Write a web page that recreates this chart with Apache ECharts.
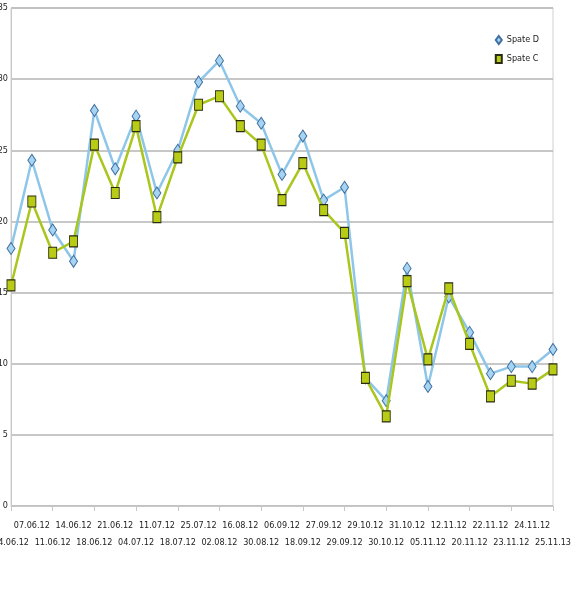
<!DOCTYPE html>
<html>
<head>
<meta charset="utf-8">
<script src="https://cdn.jsdelivr.net/npm/echarts@6/dist/echarts.min.js"></script>
<style>
  html, body { margin: 0; padding: 0; background: #fff; }
  #chart { width: 586px; height: 599px; }
</style>
</head>
<body>
<div id="chart"></div>
<script>
const dates = [
  '04.06.12', '07.06.12', '11.06.12', '14.06.12', '18.06.12', '21.06.12', '04.07.12',
  '11.07.12', '18.07.12', '25.07.12', '02.08.12', '16.08.12', '30.08.12', '06.09.12',
  '18.09.12', '27.09.12', '29.09.12', '29.10.12', '30.10.12', '31.10.12', '05.11.12',
  '12.11.12', '20.11.12', '22.11.12', '23.11.12', '24.11.12', '25.11.13'
]
const spateD = [
  18.1, 24.3, 19.4, 17.2, 27.8, 23.7, 27.4, 22.0, 25.0, 29.8, 31.3, 28.1, 26.9, 23.3,
  26.0, 21.5, 22.4, 9.0, 7.4, 16.7, 8.4, 14.7, 12.2, 9.3, 9.8, 9.8, 11.0
]
const spateC = [
  15.5, 21.4, 17.8, 18.6, 25.4, 22.0, 26.7, 20.3, 24.5, 28.2, 28.8, 26.7, 25.4, 21.5,
  24.1, 20.8, 19.2, 9.0, 6.3, 15.8, 10.3, 15.3, 11.4, 7.7, 8.8, 8.6, 9.6
]
const yTicks = [0, 5, 10, 15, 20, 25, 30, 35]

const font = '"DejaVu Sans Condensed", "Liberation Sans Narrow", sans-serif'
const chart = echarts.init(document.getElementById('chart'))

chart.setOption({
  animation: false,
  textStyle: { fontFamily: font },
  legend: {
    orient: 'vertical',
    right: 42,
    top: 30,
    itemGap: 9,
    itemWidth: 6,
    itemHeight: 8,
    textStyle: { fontSize: 9, color: '#222', fontFamily: font },
    data: [
      { name: 'Spate D', icon: 'diamond' },
      { name: 'Spate C', icon: 'rect' }
    ]
  },
  grid: {
    left: 11,
    right: 33,
    top: 8,
    bottom: 93,
    outerBoundsMode: 'none',
    containLabel: false,
    show: true,
    borderColor: '#d0d0d0',
    borderWidth: 1
  },
  xAxis: {
    type: 'category',
    data: dates,
    boundaryGap: false,
    axisLine: { lineStyle: { color: '#c8c8c8' } },
    axisTick: {
      show: true,
      length: 5,
      interval: (i) => i % 2 === 0,
      lineStyle: { color: '#c8c8c8' }
    },
    axisLabel: {
      interval: 0,
      fontSize: 9,
      color: '#222',
      margin: 11,
      lineHeight: 17,
      formatter: (v, i) => (i % 2 === 1 ? v : '\n' + v)
    }
  },
  yAxis: {
    type: 'value',
    min: yTicks[0],
    max: yTicks[yTicks.length - 1],
    interval: 5,
    axisLine: { show: true, lineStyle: { color: '#c8c8c8' } },
    axisTick: { show: false },
    axisLabel: { fontSize: 9, color: '#222', margin: 3 },
    splitLine: { lineStyle: { color: '#b4b4b4', width: 1.5 } }
  },
  series: [
    {
      name: 'Spate D',
      type: 'line',
      data: spateD,
      symbol: 'diamond',
      symbolSize: [8, 12],
      lineStyle: { color: '#8ec6ea', width: 2.5 },
      itemStyle: { color: '#a6d4f2', borderColor: '#3f6f9f', borderWidth: 1 },
      z: 2
    },
    {
      name: 'Spate C',
      type: 'line',
      data: spateC,
      symbol: 'rect',
      symbolSize: [8, 11],
      lineStyle: { color: '#a9c61c', width: 2.5 },
      itemStyle: { color: '#b8cc16', borderColor: '#2a2a10', borderWidth: 1 },
      z: 3
    }
  ]
})
</script>
</body>
</html>
